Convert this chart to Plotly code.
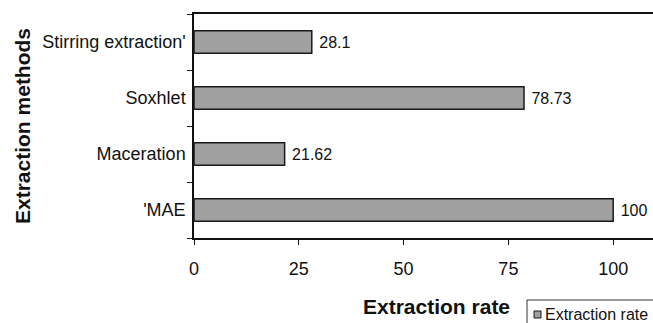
import plotly.graph_objects as go

methods = ["'MAE", "Maceration", "Soxhlet", "Stirring extraction'"]
rates = [100, 21.62, 78.73, 28.1]
rate_labels = ["100", "21.62", "78.73", "28.1"]
x_ticks = [0, 25, 50, 75, 100]
series_name = "Extraction rate"

FONT = "Liberation Sans, Arial, sans-serif"
BAR_FILL = "#a0a0a0"
EDGE = "#1a1a1a"

fig = go.Figure()
fig.add_trace(go.Bar(
    y=methods, x=rates, orientation="h", name=series_name,
    width=0.4, showlegend=False,
    marker=dict(color=BAR_FILL, line=dict(color=EDGE, width=1.5)),
    text=[" " + t for t in rate_labels], textposition="outside", cliponaxis=False,
    textfont=dict(size=16, color="#111", family=FONT),
))

# plot area: x from 194 px to 653 px (459 px), y from 14 px to 238 px (224 px)
def px_x(p):
    return (p - 194) / 459.0

def px_y(p):
    return (238 - p) / 224.0

fig.update_layout(
    width=653, height=323,
    margin=dict(l=194, r=0, t=14, b=85),
    paper_bgcolor="white", plot_bgcolor="white",
    font=dict(family=FONT, color="#111"),
    showlegend=False,
    xaxis=dict(
        range=[0, 109.5], tickvals=x_ticks, showgrid=False, zeroline=False,
        showline=True, linecolor="#111", linewidth=1.5, mirror=True,
        ticks="outside", ticklen=5, tickcolor="#111", ticklabelstandoff=9,
        tickfont=dict(size=18, family=FONT, color="#111"),
    ),
    yaxis=dict(
        type="category", range=[-0.5, 3.5], showgrid=False, zeroline=False,
        showline=True, linecolor="#111", linewidth=1.5,
        ticks="outside", ticklen=5, tickcolor="#111", tickson="boundaries",
        ticklabelstandoff=3,
        tickfont=dict(size=18, family=FONT, color="#111"),
    ),
    shapes=[
        # legend box
        dict(type="rect", xref="paper", yref="paper",
             x0=px_x(527), x1=px_x(660), y0=px_y(300), y1=px_y(330),
             line=dict(color="#333", width=1), fillcolor="white", layer="above"),
        # legend swatch
        dict(type="rect", xref="paper", yref="paper",
             x0=px_x(534), x1=px_x(541), y0=px_y(318), y1=px_y(311),
             line=dict(color=EDGE, width=1), fillcolor=BAR_FILL, layer="above"),
    ],
    annotations=[
        dict(text="<b>Extraction methods</b>", textangle=-90,
             xref="paper", yref="paper", x=px_x(22), y=px_y(126),
             xanchor="center", yanchor="middle", showarrow=False,
             font=dict(size=21, family=FONT, color="#111")),
        dict(text="<b>Extraction rate</b>",
             xref="paper", yref="paper", x=px_x(436), y=px_y(306),
             xanchor="center", yanchor="middle", showarrow=False,
             font=dict(size=21, family=FONT, color="#111")),
        dict(text=series_name,
             xref="paper", yref="paper", x=px_x(543), y=px_y(314),
             xanchor="left", yanchor="middle", showarrow=False,
             font=dict(size=16, family=FONT, color="#111")),
    ],
)

fig.write_html("out.html")
